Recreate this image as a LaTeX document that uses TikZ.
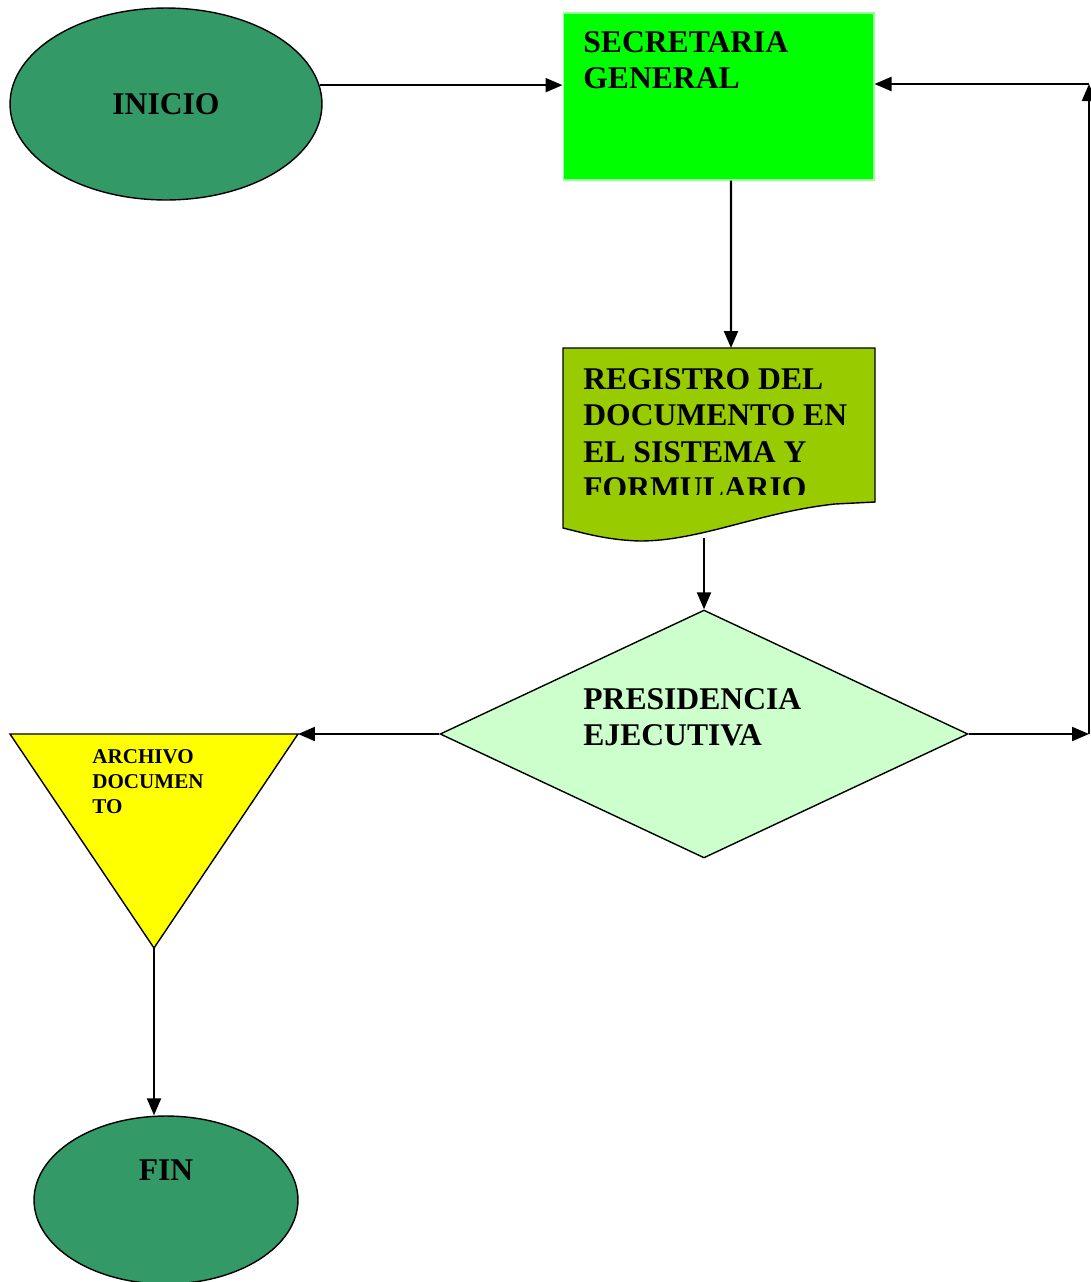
\documentclass[tikz,border=0pt]{standalone}
\usepackage{fontspec}
\setmainfont{Liberation Serif}
\usetikzlibrary{shapes.geometric,arrows.meta}
\definecolor{verdeoscuro}{HTML}{339966}
\definecolor{verdevivo}{HTML}{00FF00}
\definecolor{bordevivo}{HTML}{99FF99}
\definecolor{verdeoliva}{HTML}{99CC00}
\definecolor{verdepalido}{HTML}{CCFFCC}
\definecolor{amarillo}{HTML}{FFFF00}
\tikzset{
	flecha/.style={->, line width=1.2pt},
	borde/.style={draw=black, line width=0.8pt},
	texto/.style={anchor=north west, inner sep=0pt, align=left, font=\fontsize{18}{20.7}\selectfont\bfseries}
}
\begin{document}
\begin{tikzpicture}[x=0.02cm, y=-0.02cm, >={Triangle[length=0.34cm, width=0.28cm]}]
	\useasboundingbox (0,0) rectangle (1091,1282);
	
	\node[ellipse, borde, fill=verdeoscuro, minimum width=6.24cm, minimum height=3.84cm, inner sep=0pt,
		font=\fontsize{18}{20.7}\selectfont\bfseries] (inicio) at (166,104) {INICIO};
	
	\node[rectangle, draw=bordevivo, fill=verdevivo, line width=0.6pt, minimum width=6.22cm, minimum height=3.34cm] (secre) at (718.5,96.5) {};
	\node[texto] (secretxt) at (583,31) {SECRETARIA\\GENERAL};
	
	\draw[borde, fill=verdeoliva] (563,348) -- (875,348) -- (875,502) -- (835,504)
		.. controls (760,512) and (700,541) .. (640,541)
		.. controls (605,540) and (580,532) .. (563,528) -- cycle;
	\coordinate (regin) at (731,348);
	\coordinate (regout) at (704,538);
	\begin{scope}
		\clip (563,348) rectangle (875,494);
		\node[texto] (registxt) at (583,368) {REGISTRO DEL\\DOCUMENTO EN\\EL SISTEMA Y\\FORMULARIO};
	\end{scope}
	
	\node[diamond, borde, fill=verdepalido, minimum width=10.56cm, minimum height=4.96cm, inner sep=0pt] (presi) at (704,734) {};
	\node[texto] (presitxt) at (583,688) {PRESIDENCIA\\EJECUTIVA};
	
	\draw[borde, fill=amarillo] (10,734) -- (298,734) -- (154,948) -- cycle;
	\coordinate (archder) at (298,734);
	\coordinate (archinf) at (154,948);
	\node[texto, font=\fontsize{12}{14.2}\selectfont\bfseries] (archtxt) at (92,749) {ARCHIVO\\DOCUMEN\\TO};
	
	\node[ellipse, borde, fill=verdeoscuro, minimum width=5.28cm, minimum height=3.36cm] (fin) at (166,1200) {};
	\node[font=\fontsize{18}{20.7}\selectfont\bfseries, inner sep=0pt] (fintxt) at (166,1170) {FIN};
	
	\coordinate (esqinf) at (1089,734);
	\coordinate (esqsup) at (1089,84);
	
	\draw[flecha] (inicio.7) -- (inicio.7 -| secre.west);
	\draw[flecha] ([xshift=0.25cm]secre.south) -- (regin);
	\draw[flecha] (regout) -- (presi.north);
	\draw[flecha] (presi.west) -- (archder);
	\draw[flecha] (presi.east) -- (esqinf);
	\draw[flecha] (esqinf) -- (esqsup);
	\draw[flecha] (esqsup) -- (esqsup -| secre.east);
	\draw[flecha] (archinf) -- (archinf |- fin.north);
\end{tikzpicture}
\end{document}
